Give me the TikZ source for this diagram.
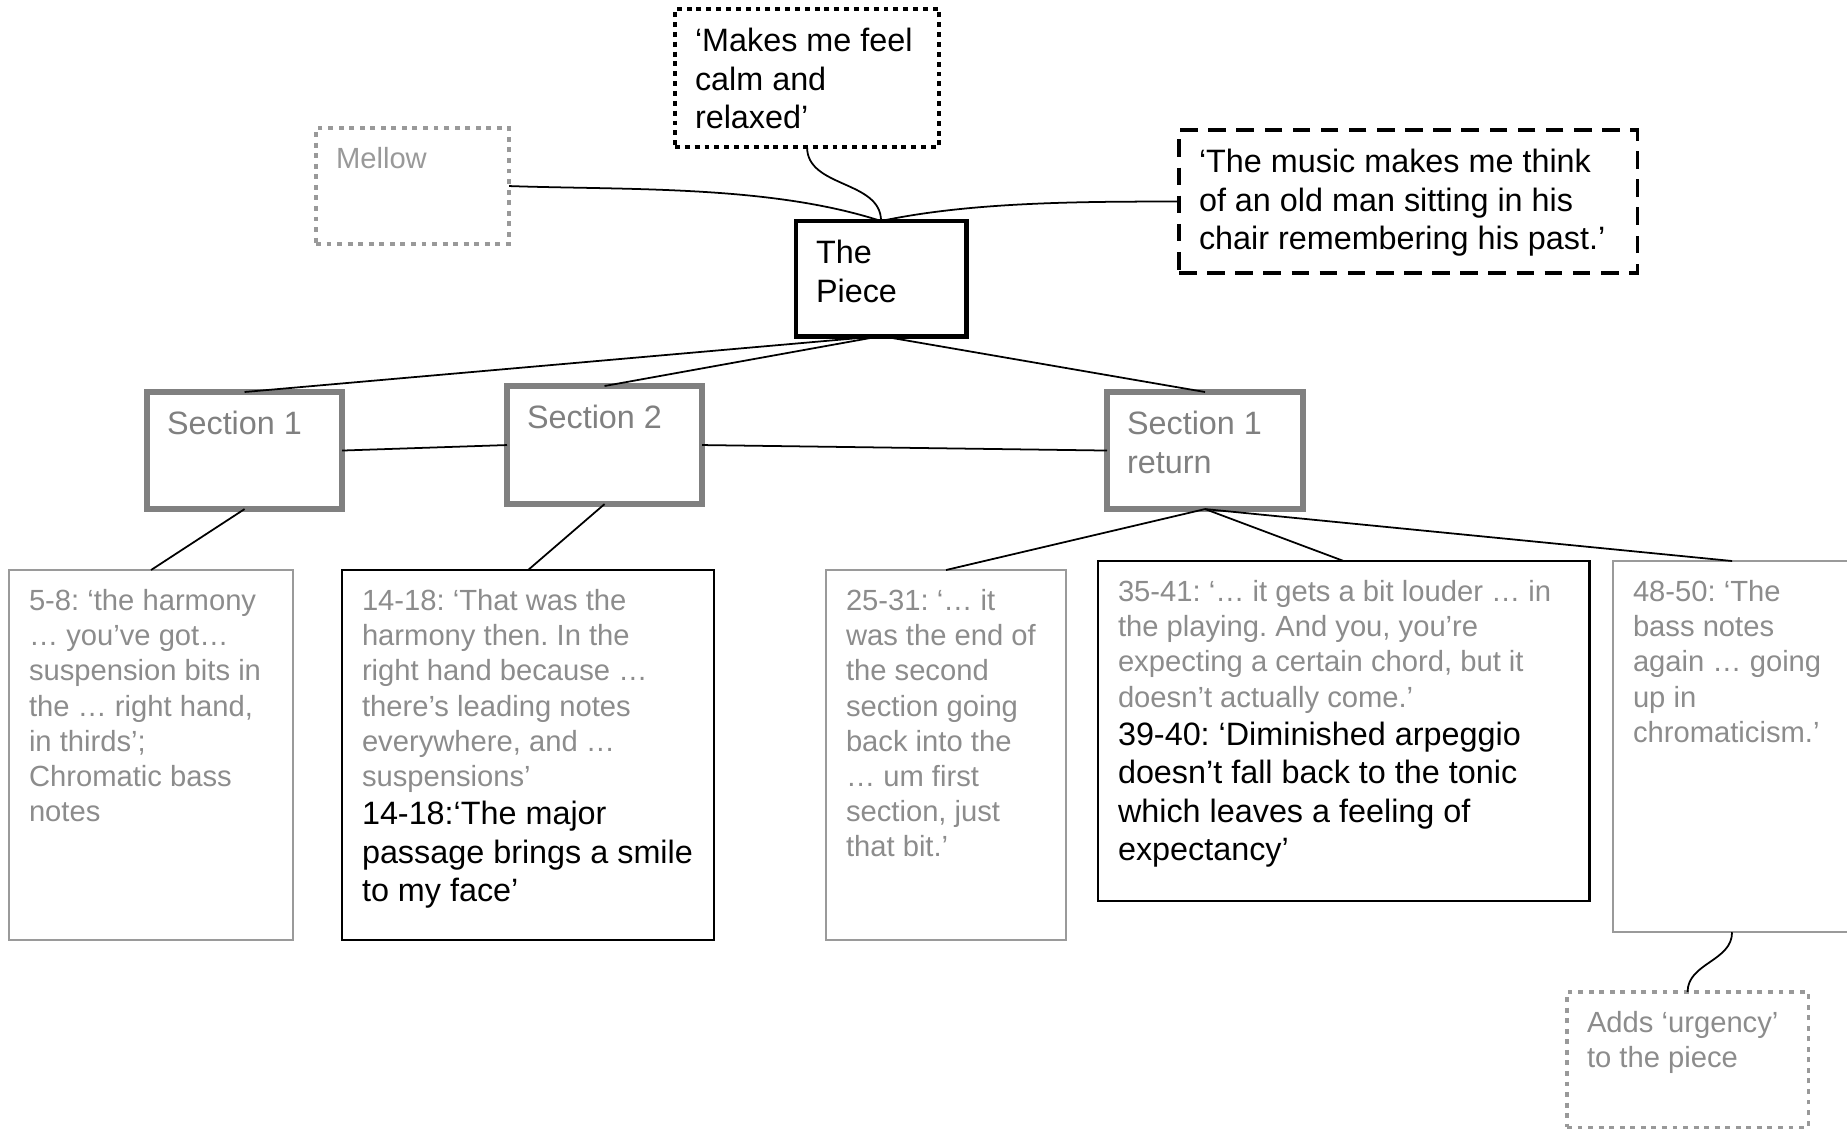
\documentclass[tikz,border=0pt]{standalone}
\usepackage{fontspec}
\setmainfont{Liberation Sans}
\frenchspacing
\definecolor{secgray}{HTML}{808080}
\definecolor{notegray}{HTML}{8C8C8C}
\definecolor{linegray}{HTML}{9A9A9A}
\definecolor{palegray}{HTML}{999999}
\newcommand{\bigsize}{\fontsize{9.2}{10.9}\selectfont}
\newcommand{\notesize}{\fontsize{8.3}{10}\selectfont}
% text of a box, set from its top left corner (width and height in cm)
\newcommand{\boxtext}[3]{\parbox[t][\dimexpr#2cm-0.32cm\relax][t]{\dimexpr#1cm-0.4cm\relax}{\raggedright\strut#3}}
\tikzset{
    % Plain box
    box/.style={
           rectangle,
           anchor=north west,
           inner xsep=0.2cm,
           inner ysep=0.16cm,
           outer sep=0pt,
           font=\bigsize},
    piecebox/.style={box, draw=black, line width=1.4pt},
    calmbox/.style={box, draw=black, line width=1.2pt, dash pattern=on 1.4pt off 1.4pt},
    thinkbox/.style={box, draw=black, line width=1pt, dash pattern=on 5pt off 3pt},
    mellowbox/.style={box, draw=palegray, line width=1pt, dash pattern=on 1.4pt off 1.6pt, text=palegray, font=\notesize},
    urgebox/.style={box, draw=palegray, line width=0.9pt, dash pattern=on 1.4pt off 1.6pt, text=notegray, font=\notesize},
    secbox/.style={box, draw=secgray, line width=1.9pt, text=secgray},
    notebox/.style={box, draw=linegray, line width=0.6pt, text=notegray, font=\notesize},
    keybox/.style={box, draw=black, line width=0.7pt, font=\notesize},
    % Define connector style
    link/.style={line width=0.5pt}
}

\begin{document}
\begin{tikzpicture}[x=0.01cm, y=-0.01cm]
\useasboundingbox (0,0) rectangle (1847,1129);

\node[piecebox] (piece) at (796,221) {\boxtext{1.70}{1.15}{The\\Piece}};
\node[calmbox] (calm) at (675,9) {\boxtext{2.64}{1.38}{‘Makes me feel\\calm and\\relaxed’}};
\node[mellowbox] (mellow) at (316,128) {\boxtext{1.93}{1.16}{Mellow}};
\node[thinkbox] (think) at (1179,130) {\boxtext{4.58}{1.43}{‘The music makes me think\\of an old man sitting in his\\chair remembering his past.’}};

\path[link] (mellow.east) edge[out=-2, in=162, looseness=0.8] (piece.north);
\path[link] (calm.south) edge[out=-90, in=90] (piece.north);
\path[link] (think.west) edge[out=180, in=12, looseness=0.8] (piece.north);

\node[secbox] (secA) at (147,392) {\boxtext{1.95}{1.17}{Section 1}};
\node[secbox] (secB) at (507,386) {\boxtext{1.95}{1.18}{Section 2}};
\node[secbox] (secC) at (1107,392) {\boxtext{1.96}{1.17}{Section 1\\return}};

\path[link] (piece.south) edge (secA.north);
\path[link] (piece.south) edge (secB.north);
\path[link] (piece.south) edge (secC.north);
\path[link] (secA.east) edge (secB.west);
\path[link] (secB.east) edge (secC.west);

\node[notebox] (leafA) at (9,570) {\boxtext{2.84}{3.70}{5-8: ‘the harmony\\… you’ve got…\\suspension bits in\\the … right hand,\\in thirds’;\\Chromatic bass\\notes}};
\node[keybox] (leafB) at (342,570) {\boxtext{3.72}{3.70}{{\color{notegray}14-18: ‘That was the\\harmony then. In the\\right hand because …\\there’s leading notes\\everywhere, and …\\suspensions’\par}\bigsize 14-18:‘The major\\passage brings a smile\\to my face’}};
\node[notebox] (leafC) at (826,570) {\boxtext{2.40}{3.70}{25-31: ‘… it\\was the end of\\the second\\section going\\back into the\\… um first\\section, just\\that bit.’}};
\node[keybox] (leafD) at (1098,561) {\boxtext{4.91}{3.40}{{\color{notegray}35-41: ‘… it gets a bit louder … in\\the playing. And you, you’re\\expecting a certain chord, but it\\doesn’t actually come.’\par}\bigsize 39-40: ‘Diminished arpeggio\\doesn’t fall back to the tonic\\which leaves a feeling of\\expectancy’}};
\node[notebox] (leafE) at (1613,561) {\boxtext{2.38}{3.71}{48-50: ‘The\\bass notes\\again … going\\up in\\chromaticism.’}};

\path[link] (secA.south) edge (leafA.north);
\path[link] (secB.south) edge (leafB.north);
\path[link] (secC.south) edge (leafC.north);
\path[link] (secC.south) edge (leafD.north);
\path[link] (secC.south) edge (leafE.north);

\node[urgebox] (urge) at (1567,992) {\boxtext{2.41}{1.35}{Adds ‘urgency’\\to the piece}};

\path[link] (leafE.south) edge[out=-90, in=90] (urge.north);

\end{tikzpicture}
\end{document}
